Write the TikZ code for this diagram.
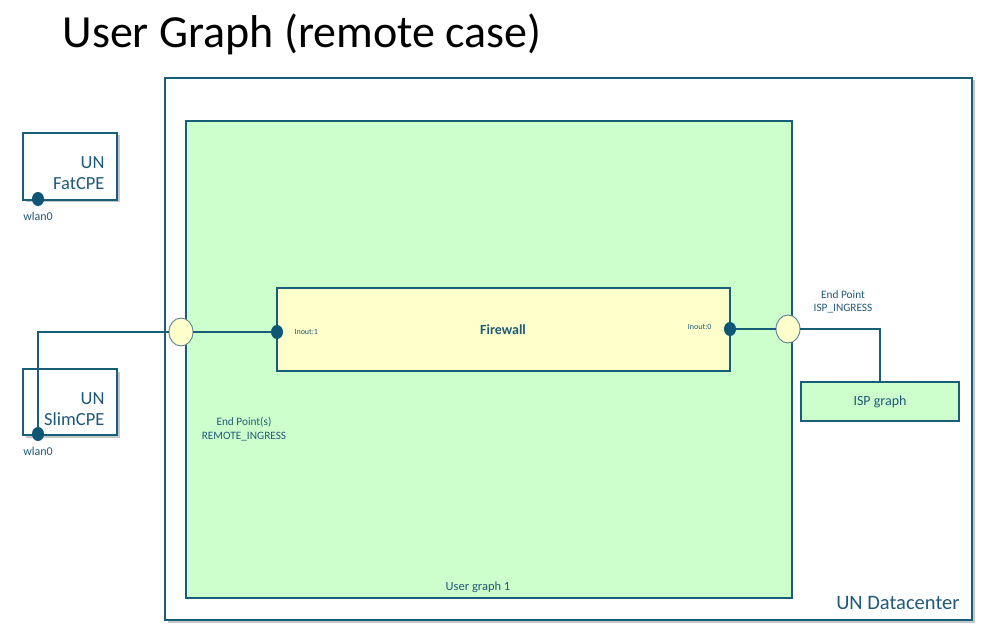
\documentclass[tikz,border=0pt]{standalone}
\usepackage{fontspec}
\setmainfont{Carlito}
\usepackage{xcolor}
\usepackage{tikz}
\usetikzlibrary{shapes.geometric,shadows}
\definecolor{edge}{HTML}{185E78}
\definecolor{port}{HTML}{0E5675}
\definecolor{lbl}{HTML}{1F5A78}
\definecolor{ring}{HTML}{5F7E9A}
\definecolor{ugfill}{HTML}{CCFFCC}
\definecolor{vnffill}{HTML}{FFFFCC}
\tikzset{
  box/.style={draw=edge, line width=1.2pt, inner sep=0pt},
  shad/.style={drop shadow={opacity=0.45, shadow xshift=2.5pt, shadow yshift=-2.5pt}},
  wire/.style={draw=edge, line width=1.2pt},
  ep/.style={ellipse, draw=ring, fill=vnffill, line width=0.9pt, minimum width=24pt, minimum height=28pt, inner sep=0pt},
  pdot/.style={ellipse, fill=port, minimum width=12pt, minimum height=14pt, inner sep=0pt},
  lab/.style={text=lbl, font=\fontsize{11.3}{13.5}\selectfont, align=center},
  labw/.style={text=lbl, font=\fontsize{12}{14}\selectfont},
  labs/.style={text=lbl, font=\fontsize{8}{10}\selectfont},
  labm/.style={text=lbl, font=\fontsize{18.5}{21}\selectfont, align=right},
}
\begin{document}
\begin{tikzpicture}[x=1pt,y=-1pt]
  \useasboundingbox (0,0) rectangle (993,636);
  \node[anchor=west, font=\fontsize{46}{50}\selectfont] (title) at (59,34) {User Graph (remote case)};
  % containers
  \node[box, fill=white, shad, minimum width=807pt, minimum height=542pt] (dc) at (568.5,349) {};
  \node[box, fill=ugfill, minimum width=606pt, minimum height=477pt] (ug) at (489,359.5) {};
  \node[box, fill=vnffill, minimum width=453pt, minimum height=83pt] (fw) at (503.5,329.5) {};
  \node[box, fill=ugfill, minimum width=158pt, minimum height=39pt] (isp) at (880,401.5) {};
  \node[box, fill=white, shad, minimum width=94pt, minimum height=67pt] (fat) at (70,166.5) {};
  \node[box, fill=white, shad, minimum width=94pt, minimum height=66pt] (slim) at (70,402) {};
  % end points and ports
  \node[ep] (epL) at (181,332) {};
  \node[ep] (epR) at (788,329) {};
  \node[pdot] (inL) at (277,332) {};
  \node[pdot] (inR) at (730,329) {};
  \node[pdot, label={[labw,label distance=2.5pt]below:wlan0}] (wfat) at (38,199) {};
  \node[pdot, label={[labw,label distance=2.5pt]below:wlan0}] (wslim) at (38,434) {};
  % links
  \draw[wire] (wslim) |- (epL);
  \draw[wire] (epL) -- (inL);
  \draw[wire] (inR) -- (epR);
  \draw[wire] (epR) -| (isp);
  % texts
  \node[labm, anchor=east] (fatlbl) at (108,173) {UN\\FatCPE};
  \node[labm, anchor=east] (slimlbl) at (108,409) {UN\\SlimCPE};
  \node[text=lbl, font=\fontsize{14}{16}\selectfont\bfseries] (fwlbl) at (503,330) {Firewall};
  \node[labs, anchor=west] (in1) at (291,332) {Inout:1};
  \node[labs, anchor=east] (in0) at (715,327) {Inout:0};
  \node[lab] (eplbl) at (244,429) {End Point(s)\\REMOTE\_INGRESS};
  \node[lab] (eprlbl) at (843,302) {End Point\\ISP\_INGRESS};
  \node[lab, font=\fontsize{12.5}{15}\selectfont] (uglbl) at (478,587) {User graph 1};
  \node[text=lbl, font=\fontsize{14}{16}\selectfont] (isplbl) at (880,402) {ISP graph};
  \node[labm, anchor=east, font=\fontsize{20.5}{24}\selectfont] (dclbl) at (963,603) {UN Datacenter};
\end{tikzpicture}
\end{document}
